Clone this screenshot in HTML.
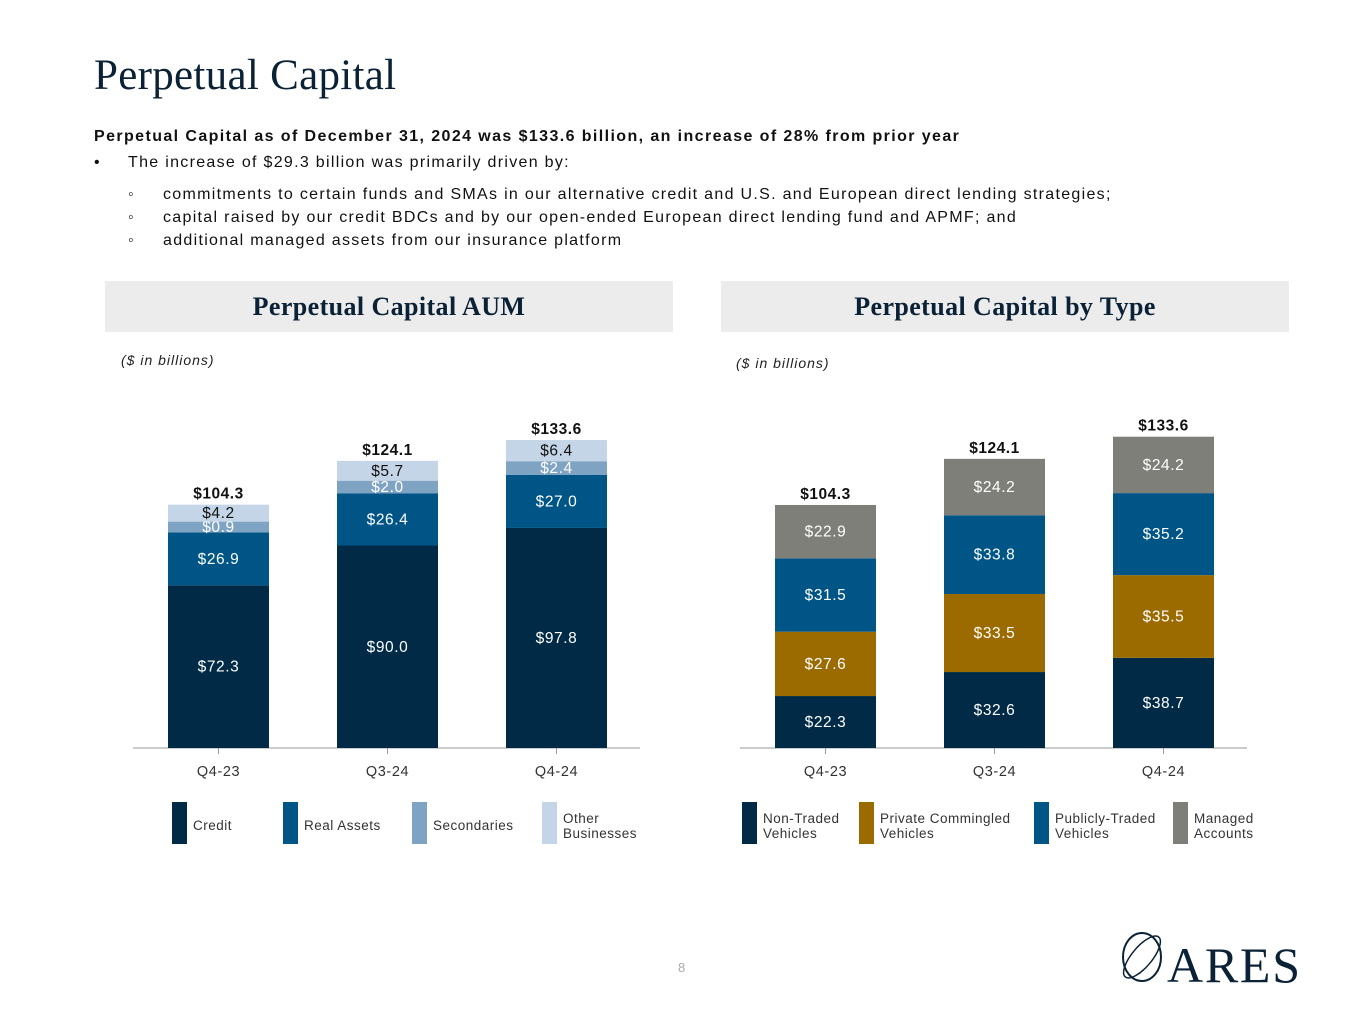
<!DOCTYPE html>
<html><head><meta charset="utf-8">
<style>
body{margin:0;width:1365px;height:1024px;background:#fff;position:relative;overflow:hidden;font-family:"Liberation Sans",sans-serif;color:#1a1a1a}
.abs{position:absolute}
h1{position:absolute;left:94px;top:51px;margin:0;font-family:"Liberation Serif",serif;font-weight:normal;font-size:43px;color:#0b2236;letter-spacing:0.3px}
.txt{font-size:16px;color:#111;letter-spacing:1.3px}
.hdr{position:absolute;top:281px;height:51px;width:568px;background:#ececec;font-family:"Liberation Serif",serif;font-weight:bold;font-size:26px;color:#0b2236;text-align:center;line-height:51px;letter-spacing:0.4px}
.unit{font-size:14px;font-style:italic;color:#222;letter-spacing:1px}
</style></head><body>
<h1>Perpetual Capital</h1>
<div class="abs txt" style="left:94px;top:128px;font-weight:bold;letter-spacing:1.4px">Perpetual Capital as of December 31, 2024 was $133.6 billion, an increase of 28% from prior year</div>
<div class="abs txt" style="left:94px;top:154px">•<span style="position:absolute;left:34px;white-space:nowrap">The increase of $29.3 billion was primarily driven by:</span></div>
<div class="abs txt" style="left:128px;top:183px;line-height:23px;white-space:nowrap">◦<span style="position:absolute;left:35px">commitments to certain funds and SMAs in our alternative credit and U.S. and European direct lending strategies;</span><br>◦<span style="position:absolute;left:35px">capital raised by our credit BDCs and by our open-ended European direct lending fund and APMF; and</span><br>◦<span style="position:absolute;left:35px">additional managed assets from our insurance platform</span></div>
<div class="hdr" style="left:105px">Perpetual Capital AUM</div>
<div class="hdr" style="left:721px">Perpetual Capital by Type</div>
<div class="abs unit" style="left:121px;top:352px">($ in billions)</div>
<div class="abs unit" style="left:736px;top:355px">($ in billions)</div>
<svg class="abs" style="left:0;top:0" width="1365" height="1024" id="chart"></svg>
<div class="abs" style="left:678px;top:960px;font-size:13px;color:#aaa">8</div>
<svg class="abs" style="left:1115px;top:927px" width="190" height="60">
<ellipse cx="27" cy="30" rx="19" ry="24" fill="none" stroke="#0b2236" stroke-width="2"/>
<ellipse cx="27" cy="30" rx="26" ry="10" transform="rotate(-50 27 30)" fill="none" stroke="#0b2236" stroke-width="1.5"/>
<text x="52" y="55" font-family="Liberation Serif,serif" font-size="50" fill="#0b2236" textLength="133">ARES</text>
</svg>
<script>
const cats=["Q4-23","Q3-24","Q4-24"];
const credit=[72.3,90.0,97.8];
const realAssets=[26.9,26.4,27.0];
const secondaries=[0.9,2.0,2.4];
const otherBiz=[4.2,5.7,6.4];
const totalsA=["$104.3","$124.1","$133.6"];
const nonTraded=[22.3,32.6,38.7];
const privComm=[27.6,33.5,35.5];
const pubTraded=[31.5,33.8,35.2];
const managed=[22.9,24.2,24.2];
const totalsB=["$104.3","$124.1","$133.6"];
const svg=document.getElementById('chart');
const NS="http://www.w3.org/2000/svg";
function mk(t,a){const e=document.createElementNS(NS,t);for(const k in a)e.setAttribute(k,a[k]);svg.appendChild(e);return e;}
const base=748;
function hLin(v){return v*2.33;}
function hAum(v){return v<10?9+v*1.9:(v>50?v*2.25:v*1.97);}
function draw(x0,axisL,axisR,series,totals,prefix,legend,hf){
  const ln=mk('line',{x1:axisL,x2:axisR,y1:base,y2:base,stroke:'#999','stroke-width':1});
  
  cats.forEach((c,i)=>{
    const bx=x0+i*169,w=101;let cum=base;
    series.forEach(s=>{
      const v=s.data[i];const bot=cum,top=cum-hf(v);
      const r=mk('rect',{x:bx,y:top,width:w,height:bot-top,fill:s.color});
      
      
      const t=mk('text',{x:bx+w/2,y:(top+bot)/2+5,'text-anchor':'middle','font-size':15.5,fill:s.text,'letter-spacing':0.6});
      t.textContent='$'+v.toFixed(1);
      
      cum=top;
    });
    const tt=mk('text',{x:bx+w/2,y:cum-6,'text-anchor':'middle','font-size':15.5,'font-weight':'bold',fill:'#111','letter-spacing':0.5});
    tt.textContent=totals[i];
    const tk=mk('line',{x1:bx+w/2,x2:bx+w/2,y1:base,y2:base+6,stroke:'#999'});
    
    const cl=mk('text',{x:bx+w/2,y:776,'text-anchor':'middle','font-size':14.5,fill:'#333','letter-spacing':0.6});
    cl.textContent=c;
  });
  legend.forEach(l=>{
    const r=mk('rect',{x:l.x,y:802,width:15,height:42,fill:l.color});
    
    const lines=l.label.split('|');
    const y0=lines.length==1?830:823;
    lines.forEach((s,j)=>{const t=mk('text',{x:l.x+21,y:y0+j*15,'font-size':13.5,fill:'#333','letter-spacing':0.5});t.textContent=s;
      });
  });
}
draw(168,133,640,[
 {key:'credit',data:credit,color:'#002a45',text:'#fff'},
 {key:'real-assets',data:realAssets,color:'#005587',text:'#fff'},
 {key:'secondaries',data:secondaries,color:'#7fa3c3',text:'#fff'},
 {key:'other',data:otherBiz,color:'#c3d5e6',text:'#111'}],totalsA,'aum',[
 {x:172,color:'#002a45',label:'Credit'},{x:283,color:'#005587',label:'Real Assets'},
 {x:412,color:'#7fa3c3',label:'Secondaries'},{x:542,color:'#c3d5e6',label:'Other|Businesses'}],hAum);
draw(775,740,1247,[
 {key:'non-traded',data:nonTraded,color:'#002a45',text:'#fff'},
 {key:'private-commingled',data:privComm,color:'#9c6b00',text:'#fff'},
 {key:'publicly-traded',data:pubTraded,color:'#005587',text:'#fff'},
 {key:'managed-accounts',data:managed,color:'#7f7f7a',text:'#fff'}],totalsB,'type',[
 {x:742,color:'#002a45',label:'Non-Traded|Vehicles'},{x:859,color:'#9c6b00',label:'Private Commingled|Vehicles'},
 {x:1034,color:'#005587',label:'Publicly-Traded|Vehicles'},{x:1173,color:'#7f7f7a',label:'Managed|Accounts'}],hLin);
</script>
</body></html>
